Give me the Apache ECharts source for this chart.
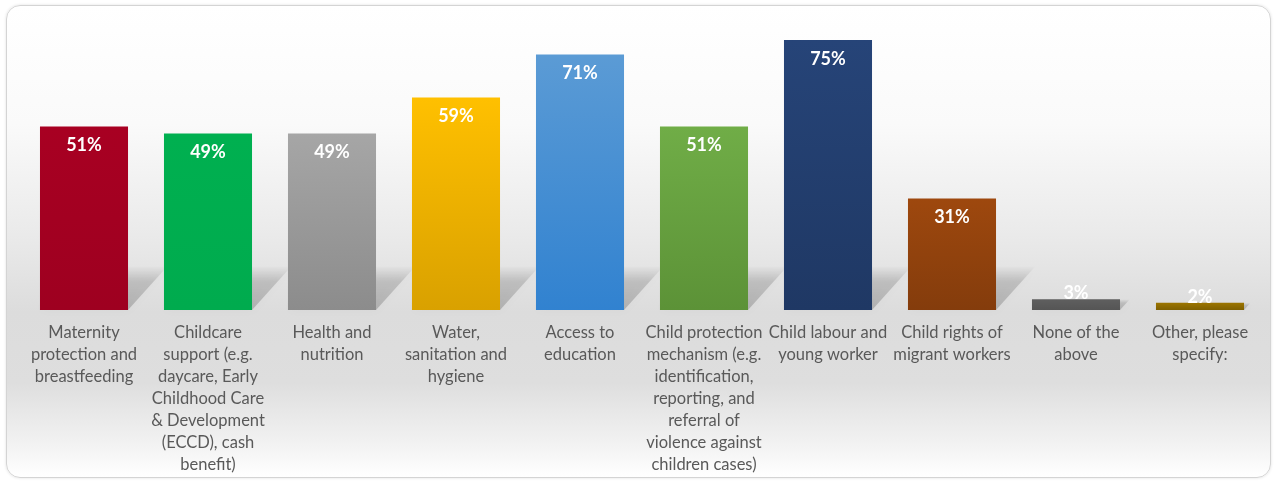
<!DOCTYPE html>
<html>
<head>
<meta charset="utf-8">
<script src="https://cdn.jsdelivr.net/npm/echarts@6/dist/echarts.min.js"></script>
<style>
  html, body { margin: 0; padding: 0; background: #fff; }
  #box {
    position: absolute; left: 6px; top: 5px; width: 1263px; height: 471px;
    border: 1px solid #d4d4d4; border-radius: 14px;
    box-shadow: 0 0 3px rgba(0,0,0,0.12);
    background: linear-gradient(to bottom, #ffffff 0%, #fafafa 25%, #e9e9e9 50%, #dcdcdc 65%, #dedede 80%, #f2f2f2 93%, #ffffff 100%);
  }
  #chart { position: absolute; left: 0; top: 0; width: 1277px; height: 481px; }
</style>
</head>
<body>
<div id="box"></div>
<div id="chart"></div>
<script>
// categories (line breaks as in the original chart)
var categories = [
  'Maternity\nprotection and\nbreastfeeding',
  'Childcare\nsupport (e.g.\ndaycare, Early\nChildhood Care\n& Development\n(ECCD), cash\nbenefit)',
  'Health and\nnutrition',
  'Water,\nsanitation and\nhygiene',
  'Access to\neducation',
  'Child protection\nmechanism (e.g.\nidentification,\nreporting, and\nreferral of\nviolence against\nchildren cases)',
  'Child labour and\nyoung worker',
  'Child rights of\nmigrant workers',
  'None of the\nabove',
  'Other, please\nspecify:'
];
var values = [51, 49, 49, 59, 71, 51, 75, 31, 3, 2];
var topColors    = ['#a80022', '#00b050', '#a6a6a6', '#ffc000', '#5b9bd5', '#70ad47', '#264478', '#9e480e', '#5f5f5f', '#9c7500'];
var bottomColors = ['#9e0020', '#00ab4e', '#8c8c8c', '#d9a100', '#3182d0', '#5c9237', '#1f3864', '#843c0c', '#555555', '#7f6000'];

var chart = echarts.init(document.getElementById('chart'));

function grad(i) {
  return new echarts.graphic.LinearGradient(0, 0, 0, 1, [
    { offset: 0, color: topColors[i] },
    { offset: 1, color: bottomColors[i] }
  ]);
}

var barData = values.map(function (v, i) {
  var item = { value: v, itemStyle: { color: grad(i) } };
  if (v < 10) {
    item.label = { position: 'top', distance: -3 };
  }
  return item;
});

chart.setOption({
  animation: false,
  grid: { left: 22, right: 15, top: 22, bottom: 171 },
  xAxis: {
    type: 'category',
    data: categories,
    axisLine: { show: false },
    axisTick: { show: false },
    axisLabel: {
      interval: 0,
      color: '#595959',
      fontFamily: 'Lato',
      fontSize: 16.5,
      lineHeight: 22,
      margin: 12
    }
  },
  yAxis: {
    type: 'value',
    min: 0,
    max: 80,
    show: false,
    splitLine: { show: false }
  },
  series: [
    {
      // perspective shadow behind each bar
      type: 'custom',
      z: 1,
      silent: true,
      data: values.map(function (v, i) { return [i, v]; }),
      renderItem: function (params, api) {
        var base = api.coord([api.value(0), 0]);
        var top = api.coord([api.value(0), api.value(1)]);
        var w = api.size([1, 0])[0] * 0.71;
        var h = Math.min(base[1] - top[1], 44);
        var dx = h * 0.9;
        var x0 = base[0] - w / 2, x1 = base[0] + w / 2, y0 = base[1];
        return {
          type: 'polygon',
          shape: { points: [[x0, y0], [x1, y0], [x1 + dx, y0 - h], [x0 + dx, y0 - h]] },
          style: {
            fill: new echarts.graphic.LinearGradient(0, 0, 0, 1, [
              { offset: 0, color: 'rgba(0,0,0,0)' },
              { offset: 0.35, color: 'rgba(0,0,0,0.14)' },
              { offset: 1, color: 'rgba(0,0,0,0.19)' }
            ]),
            shadowBlur: 8,
            shadowColor: 'rgba(0,0,0,0.12)'
          }
        };
      }
    },
    {
      type: 'bar',
      z: 2,
      barWidth: '71%',
      data: barData,
      label: {
        show: true,
        position: 'insideTop',
        distance: 10,
        color: '#ffffff',
        fontFamily: 'Lato',
        fontWeight: 'bold',
        fontSize: 18,
        formatter: '{c}%'
      }
    }
  ]
});
</script>
</body>
</html>
